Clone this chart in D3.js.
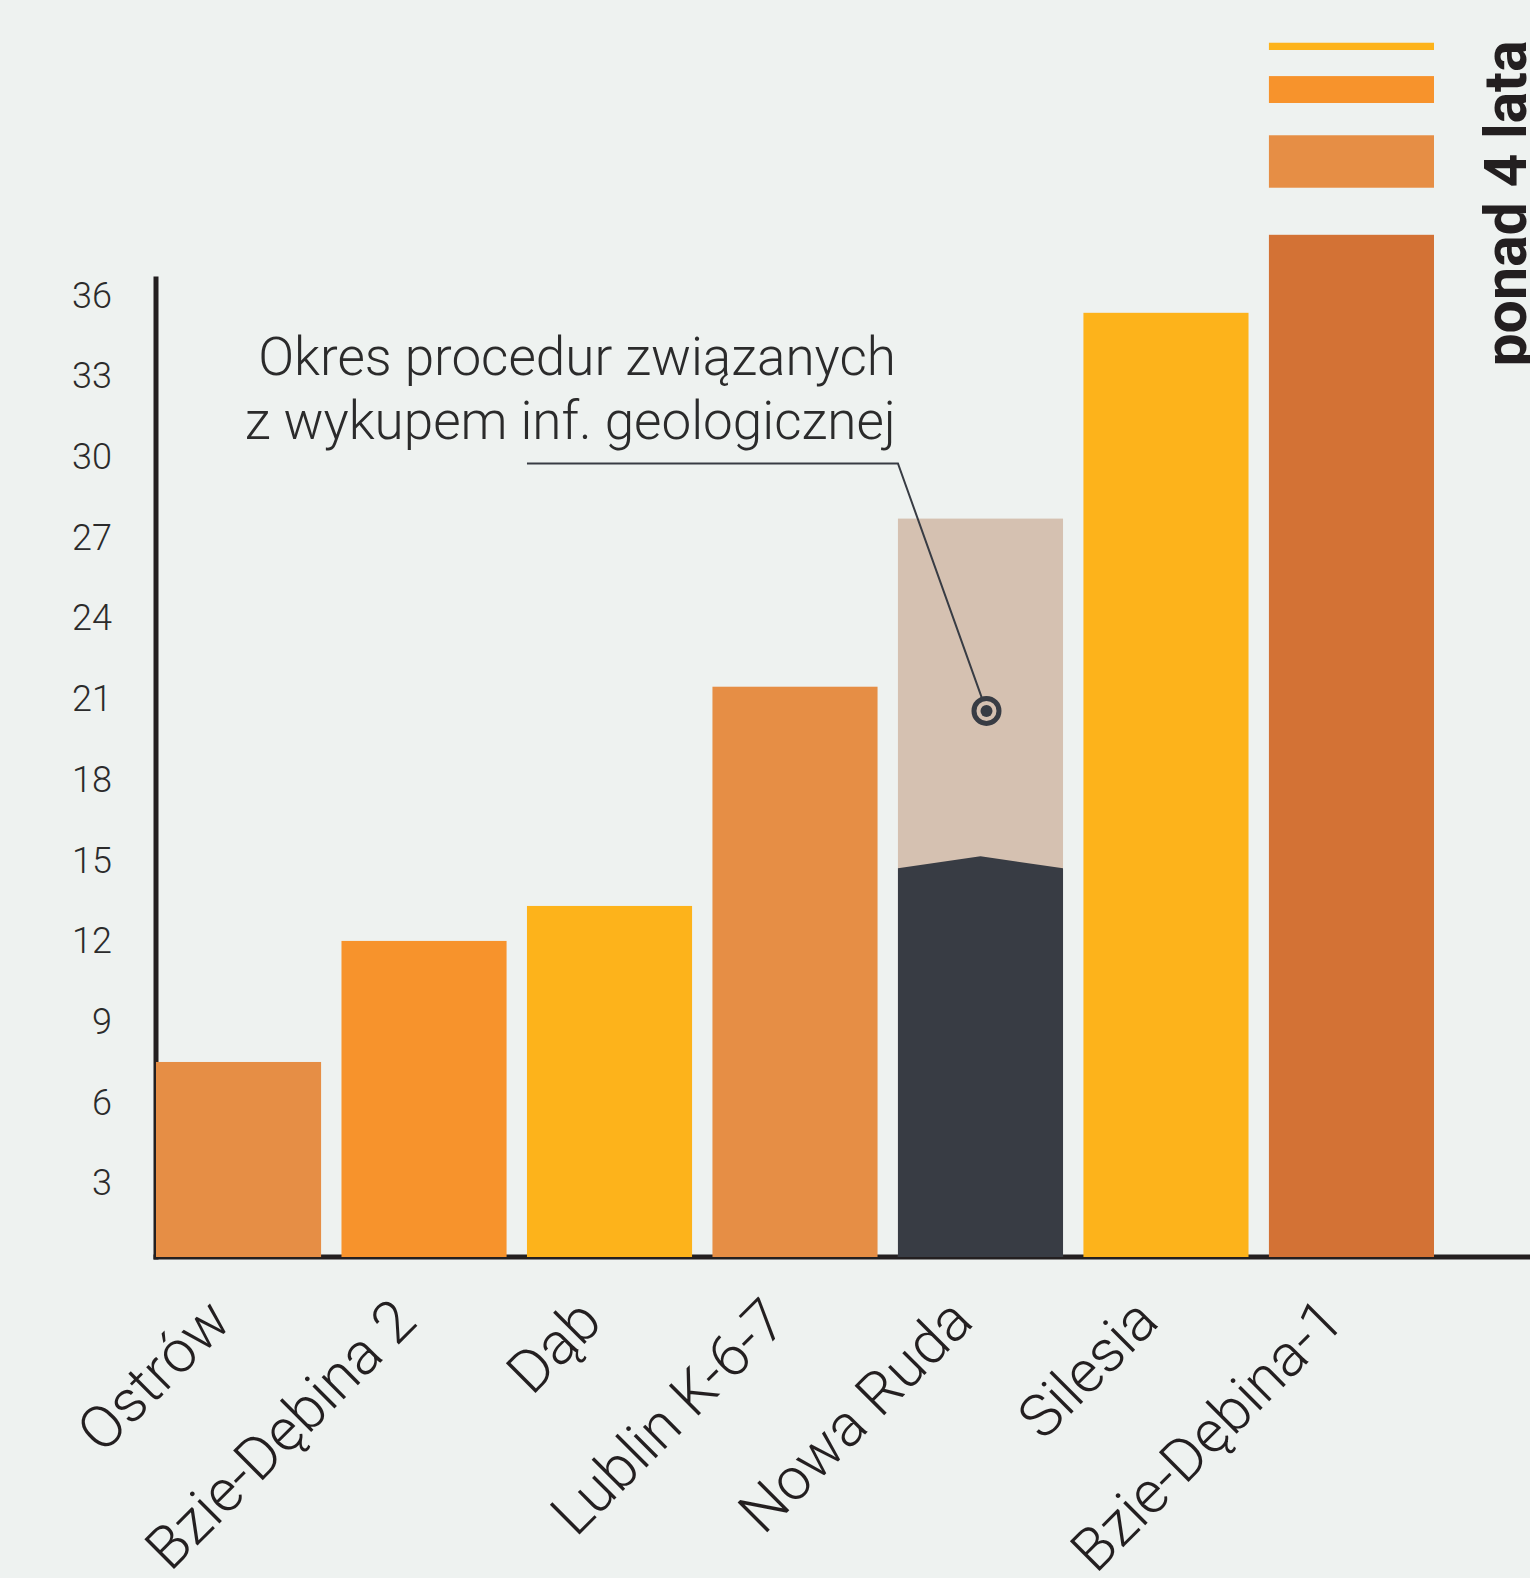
<!DOCTYPE html>
<html>
<head>
<meta charset="utf-8">
<script src="https://cdn.jsdelivr.net/npm/d3@7"></script>
<style>
  body { margin: 0; background: #EEF2F0; }
  text { font-family: Roboto, "Noto Sans", sans-serif; }
</style>
</head>
<body>
<div id="chart"></div>
<script>
// data
var categories = ["Ostrów", "Bzie-Dębina 2", "Dąb", "Lublin K-6-7", "Nowa Ruda", "Silesia", "Bzie-Dębina-1"];
var months = [7.25, 11.75, 13.05, 21.2, 27.45, 35.1, 38.0];
var barColors = ["#E68E45", "#F7932C", "#FDB31B", "#E68E45", "#D5C1B1", "#FDB31B", "#D37235"];
// Nowa Ruda dark part: level at the edges, level at the peak
var novaRudaDark = [14.45, 14.9];
// broken top of the last bar (above 4 years)
var overflowParts = [[39.75, 41.7], [42.9, 43.9], [44.87, 45.14]];
var overflowColors = ["#E68E45", "#F7932C", "#FDB31B"];
var yTicks = [3, 6, 9, 12, 15, 18, 21, 24, 27, 30, 33, 36];
var noteLines = ["Okres procedur związanych", "z wykupem inf. geologicznej"];
var calloutLevel = 29.5;
var markerLevel = 20.3;
var overflowLabel = "ponad 4 lata";

// dimensions
var width = 1530;
var height = 1578;
var ink = "#231F20";
var dark = "#383C44";

var svg = d3.select("#chart")
    .append("svg")
    .attr("width", width)
    .attr("height", height);

svg.append("rect")
    .attr("width", width)
    .attr("height", height)
    .attr("fill", "#EEF2F0");

var x = d3.scaleBand()
    .domain(categories)
    .range([156, 1434])
    .paddingInner(0.11)
    .paddingOuter(0);

var y = d3.scaleLinear()
    .domain([0, 36])
    .range([1257, 288.6]);

var bw = x.bandwidth();

// axes lines
svg.append("line")
    .attr("x1", 156).attr("x2", 156)
    .attr("y1", y(36) - 12).attr("y2", y(0) + 2.5)
    .attr("stroke", ink)
    .attr("stroke-width", 5);

svg.append("line")
    .attr("x1", 153.5).attr("x2", width)
    .attr("y1", y(0)).attr("y2", y(0))
    .attr("stroke", ink)
    .attr("stroke-width", 5);

// y tick labels
var yAxis = svg.append("g")
    .attr("transform", "translate(156,0)")
    .call(d3.axisLeft(y).tickValues(yTicks).tickSize(0).tickPadding(44));
yAxis.select(".domain").remove();
yAxis.selectAll("text")
    .attr("dy", "18.5px")
    .attr("font-size", "36px")
    .attr("font-weight", 300)
    .attr("fill", "#2B2B2B")
    .style("font-family", "Roboto, sans-serif");

// bars
svg.selectAll(".bar")
    .data(categories)
    .enter()
    .append("rect")
    .attr("class", "bar")
    .attr("x", function (d) { return x(d); })
    .attr("y", function (d, i) { return y(months[i]); })
    .attr("width", bw)
    .attr("height", function (d, i) { return y(0) - y(months[i]); })
    .attr("fill", function (d, i) { return barColors[i]; });

// Nowa Ruda dark part with peaked top
var nr = x("Nowa Ruda");
svg.append("polygon")
    .attr("points", [
        [nr, y(0)],
        [nr, y(novaRudaDark[0])],
        [nr + bw / 2, y(novaRudaDark[1])],
        [nr + bw, y(novaRudaDark[0])],
        [nr + bw, y(0)]
    ].map(function (p) { return p.join(","); }).join(" "))
    .attr("fill", dark);

// broken overflow of the last bar
var last = x("Bzie-Dębina-1");
svg.selectAll(".overflow")
    .data(overflowParts)
    .enter()
    .append("rect")
    .attr("class", "overflow")
    .attr("x", last)
    .attr("width", bw)
    .attr("y", function (d) { return y(d[1]); })
    .attr("height", function (d) { return y(d[0]) - y(d[1]); })
    .attr("fill", function (d, i) { return overflowColors[i]; });

svg.append("text")
    .attr("transform", "translate(1526," + y(33.1) + ") rotate(-90)")
    .attr("font-size", "59px")
    .attr("font-weight", 700)
    .attr("fill", ink)
    .text(overflowLabel);

// x labels
svg.selectAll(".xlabel")
    .data(categories)
    .enter()
    .append("text")
    .attr("class", "xlabel")
    .attr("transform", function (d) {
        return "translate(" + (x(d) + bw / 2 - 5) + ",1324) rotate(-45)";
    })
    .attr("text-anchor", "end")
    .attr("font-size", "59px")
    .attr("font-weight", 300)
    .attr("fill", ink)
    .text(function (d) { return d; });

// annotation
var note = svg.append("g");
note.selectAll("text")
    .data(noteLines)
    .enter()
    .append("text")
    .attr("x", nr - 2)
    .attr("y", function (d, i) { return 375 + i * 64; })
    .attr("text-anchor", "end")
    .attr("font-size", "53px")
    .attr("font-weight", 300)
    .attr("fill", "#2B2B2B")
    .text(function (d) { return d; });

var mx = nr + bw / 2 + 6;
note.append("polyline")
    .attr("points", [
        [x("Dąb"), y(calloutLevel)],
        [nr, y(calloutLevel)],
        [mx, y(markerLevel)]
    ].map(function (p) { return p.join(","); }).join(" "))
    .attr("fill", "none")
    .attr("stroke", dark)
    .attr("stroke-width", 2);

note.append("circle")
    .attr("cx", mx).attr("cy", y(markerLevel))
    .attr("r", 12.5)
    .attr("fill", "#D5C1B1")
    .attr("stroke", dark)
    .attr("stroke-width", 5);

note.append("circle")
    .attr("cx", mx).attr("cy", y(markerLevel))
    .attr("r", 6)
    .attr("fill", dark);
</script>
</body>
</html>
